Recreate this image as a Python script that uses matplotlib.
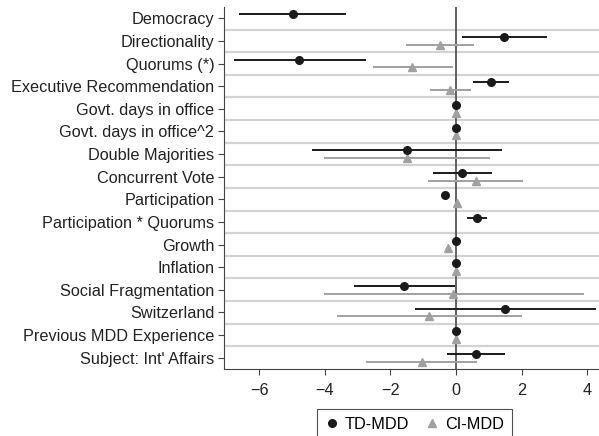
import numpy as np
import matplotlib.pyplot as plt

plt.rcParams['font.family'] = ['Liberation Sans', 'DejaVu Sans']

variables = ["Democracy", "Directionality", "Quorums (*)", "Executive Recommendation",
             "Govt. days in office", "Govt. days in office^2", "Double Majorities",
             "Concurrent Vote", "Participation", "Participation * Quorums", "Growth",
             "Inflation", "Social Fragmentation", "Switzerland",
             "Previous MDD Experience", "Subject: Int' Affairs"]

# TD-MDD estimates with confidence bounds
td_coef = [-4.98, 1.46, -4.78, 1.07, 0.0, 0.0, -1.50, 0.18, -0.34, 0.63, 0.0, 0.0, -1.58, 1.49, 0.0, 0.61]
td_low = [-6.61, 0.17, -6.76, 0.53, -0.03, -0.03, -4.40, -0.69, -0.40, 0.33, -0.03, -0.03, -3.11, -1.25, -0.03, -0.27]
td_high = [-3.35, 2.76, -2.75, 1.63, 0.03, 0.03, 1.41, 1.09, -0.28, 0.94, 0.03, 0.03, -0.02, 4.26, 0.03, 1.49]

# CI-MDD estimates with confidence bounds
ci_coef = [np.nan, -0.49, -1.33, -0.18, 0.0, 0.0, -1.50, 0.60, 0.04, np.nan, -0.23, 0.0, -0.08, -0.83, 0.0, -1.05]
ci_low = [np.nan, -1.52, -2.52, -0.79, -0.03, -0.03, -4.01, -0.85, 0.01, np.nan, -0.30, -0.03, -4.02, -3.64, -0.03, -2.74]
ci_high = [np.nan, 0.55, -0.10, 0.45, 0.03, 0.03, 1.04, 2.05, 0.07, np.nan, -0.16, 0.03, 3.90, 2.01, 0.03, 0.65]

td_coef, td_low, td_high = map(np.array, (td_coef, td_low, td_high))
ci_coef, ci_low, ci_high = map(np.array, (ci_coef, ci_low, ci_high))

y = np.arange(len(variables))
off = 0.17
fs = 11.7

fig = plt.figure(figsize=(5.99, 4.36), dpi=100)
ax = fig.add_axes([0.374, 0.1537, 0.626, 0.8303])

# row separators
for k in range(len(variables) - 1):
    ax.axhline(k + 0.5, color='#d3d3d3', lw=1.6, zorder=0)
ax.axvline(0, color='#555555', lw=1.3, zorder=1)

ax.errorbar(td_coef, y - off, xerr=[td_coef - td_low, td_high - td_coef], fmt='o',
            color='#1a1a1a', ecolor='#1a1a1a', elinewidth=1.4, capsize=0, ms=5.5,
            label='TD-MDD', zorder=3)
ax.errorbar(ci_coef, y + off, xerr=[ci_coef - ci_low, ci_high - ci_coef], fmt='^',
            color='#a0a0a0', ecolor='#a0a0a0', elinewidth=1.4, capsize=0, ms=6,
            label='CI-MDD', zorder=2)

ax.set_yticks(y)
ax.set_yticklabels(variables, fontsize=fs, color='#222222')
ax.set_ylim(len(variables) - 0.5, -0.5)
ax.set_xlim(-7.07, 4.36)
ax.set_xticks([-6, -4, -2, 0, 2, 4])
ax.set_xticklabels(['\u22126', '\u22124', '\u22122', '0', '2', '4'], fontsize=fs, color='#222222')
ax.tick_params(length=4, color='#444444', pad=3)
ax.tick_params(axis='x', pad=6)

for s in ['top', 'right']:
    ax.spines[s].set_visible(False)
for s in ['left', 'bottom']:
    ax.spines[s].set_color('#444444')

h, l = ax.get_legend_handles_labels()
h = [hh[0] for hh in h]
leg = fig.legend(h, l, loc='upper center', bbox_to_anchor=(0.6925, 0.062), ncol=2,
                 fontsize=fs, frameon=True, fancybox=False, edgecolor='#222222',
                 handlelength=0.8, handletextpad=0.4, columnspacing=1.0, borderpad=0.5,
                 borderaxespad=0)
leg.get_frame().set_linewidth(0.8)

fig.savefig('out.png', dpi=100)
